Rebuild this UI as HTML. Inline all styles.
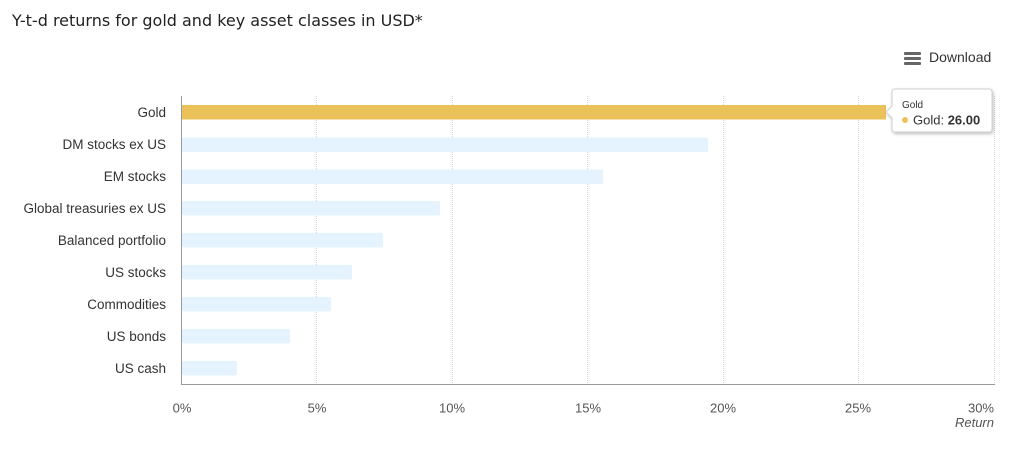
<!DOCTYPE html>
<html><head><meta charset="utf-8"><style>
html,body{margin:0;padding:0;background:#fff;width:1024px;height:450px;overflow:hidden}
svg{display:block}
</style></head><body>
<svg width="1024" height="450" xmlns="http://www.w3.org/2000/svg" font-family="'Liberation Sans', Arial, sans-serif">
<text x="12" y="26" font-family="'DejaVu Sans', 'Liberation Sans', sans-serif" font-size="16" fill="#222">Y-t-d returns for gold and key asset classes in USD*</text>
<!-- download -->
<g fill="#666"><rect x="904" y="52" width="17" height="3" rx="1"/><rect x="904" y="57" width="17" height="3" rx="1"/><rect x="904" y="62" width="17" height="3" rx="1"/></g>
<text x="929" y="62" font-size="14" fill="#333">Download</text>
<!-- grid -->
<g stroke="#d4d4d4" stroke-width="1" stroke-dasharray="1,1">
<line x1="316.5" y1="96" x2="316.5" y2="384"/>
<line x1="452.5" y1="96" x2="452.5" y2="384"/>
<line x1="587.5" y1="96" x2="587.5" y2="384"/>
<line x1="723.5" y1="96" x2="723.5" y2="384"/>
<line x1="858.5" y1="96" x2="858.5" y2="384"/>
<line x1="994.5" y1="96" x2="994.5" y2="384"/>
</g>
<!-- bars -->
<rect x="182" y="105" width="704" height="14.5" fill="#ebc15a"/>
<g fill="#e3f2fd" fill-opacity="0.95">
<rect x="182" y="137.5" width="526" height="14.5" rx="2"/>
<rect x="182" y="169.5" width="421" height="14.5" rx="2"/>
<rect x="182" y="201" width="258" height="14.5" rx="2"/>
<rect x="182" y="233" width="201" height="14.5" rx="2"/>
<rect x="182" y="265" width="170" height="14.5" rx="2"/>
<rect x="182" y="297" width="149" height="14.5" rx="2"/>
<rect x="182" y="329" width="108" height="14.5" rx="2"/>
<rect x="182" y="361" width="55" height="14.5" rx="2"/>
</g>
<!-- axes -->
<line x1="181.5" y1="96" x2="181.5" y2="384" stroke="#999" stroke-width="1"/>
<line x1="181" y1="384.5" x2="995" y2="384.5" stroke="#999" stroke-width="1"/>
<!-- y labels -->
<g font-size="13.5" fill="#333" text-anchor="end">
<text x="166" y="117">Gold</text>
<text x="166" y="149">DM stocks ex US</text>
<text x="166" y="181">EM stocks</text>
<text x="166" y="213">Global treasuries ex US</text>
<text x="166" y="245">Balanced portfolio</text>
<text x="166" y="277">US stocks</text>
<text x="166" y="309">Commodities</text>
<text x="166" y="341">US bonds</text>
<text x="166" y="373">US cash</text>
</g>
<!-- x labels -->
<g font-size="13" fill="#555" text-anchor="middle">
<text x="182" y="412.5">0%</text>
<text x="317" y="412.5">5%</text>
<text x="452" y="412.5">10%</text>
<text x="588" y="412.5">15%</text>
<text x="723" y="412.5">20%</text>
<text x="858" y="412.5">25%</text>
<text x="994" y="412.5" text-anchor="end">30%</text>
</g>
<text x="994" y="427" font-size="13" fill="#555" font-style="italic" text-anchor="end">Return</text>
<!-- tooltip -->
<defs><filter id="sh" x="-20%" y="-20%" width="140%" height="150%"><feDropShadow dx="1" dy="1.5" stdDeviation="1.5" flood-color="#000" flood-opacity="0.25"/></filter></defs>
<path d="M895,89 H989 Q992,89 992,92 V129 Q992,132 989,132 H895 Q892,132 892,129 V118 L886,112 L892,106 V92 Q892,89 895,89 Z" fill="#fff" stroke="#d0d0d0" stroke-width="1" filter="url(#sh)"/>
<text x="902" y="108" font-size="10" fill="#333">Gold</text>
<circle cx="905" cy="120" r="3" fill="#ebc15a"/>
<text x="913" y="124.5" font-size="13" fill="#333">Gold: <tspan font-weight="bold">26.00</tspan></text>
</svg>
</body></html>
